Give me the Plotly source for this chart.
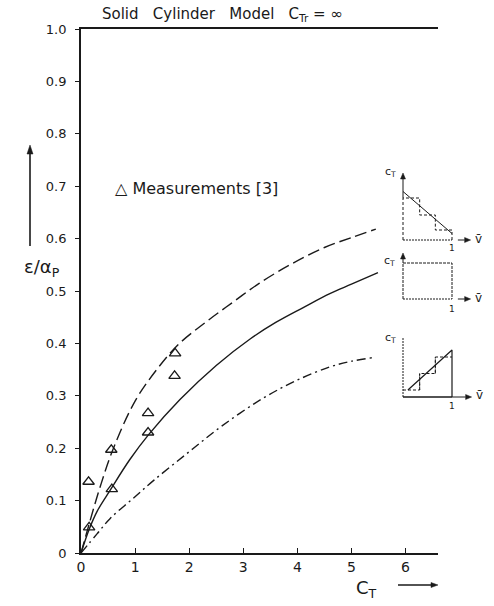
import math
import plotly.graph_objects as go

# ---------------- data ----------------
ct_upper = [0, 0.15, 0.35, 0.6, 1.0, 1.4, 1.8, 2.3, 2.8, 3.3, 3.9, 4.5, 5.0, 5.45]
eps_upper = [0, 0.055, 0.125, 0.2, 0.29, 0.35, 0.398, 0.44, 0.478, 0.515, 0.552, 0.583, 0.602, 0.618]

ct_mid = [0, 0.15, 0.3, 0.54, 0.9, 1.25, 1.83, 2.5, 3.12, 3.6, 4.1, 4.6, 5.0, 5.49]
eps_mid = [0, 0.045, 0.08, 0.12, 0.178, 0.226, 0.293, 0.358, 0.408, 0.44, 0.468, 0.495, 0.513, 0.535]

ct_low = [0, 0.3, 0.54, 0.95, 1.35, 1.96, 2.6, 3.36, 4.0, 4.6, 5.0, 5.41]
eps_low = [0, 0.037, 0.066, 0.103, 0.139, 0.19, 0.242, 0.295, 0.33, 0.355, 0.366, 0.373]

meas_ct = [0.15, 0.14, 0.57, 0.56, 1.24, 1.24, 1.73, 1.74]
meas_eps = [0.049, 0.136, 0.122, 0.197, 0.23, 0.267, 0.338, 0.381]

y_tickvals = [0, 0.1, 0.2, 0.3, 0.4, 0.5, 0.6, 0.7, 0.8, 0.9, 1.0]
y_ticktext = ["0", "0.1", "0.2", "0.3", "0.4", "0.5", "0.6", "0.7", "0.8", "0.9", "1.0"]
x_tickvals = [0, 1, 2, 3, 4, 5, 6]

# schematic insets (local coordinates: u along v-bar, v along c_T)
in1_line_u = [0, 1]
in1_line_v = [0.97, 0.13]
in1_step_u = [0, 0, 0.34, 0.34, 0.66, 0.66, 1, 1]
in1_step_v = [0, 0.84, 0.84, 0.5, 0.5, 0.2, 0.2, 0]

in2_rect_u = [0, 0, 1, 1]
in2_rect_v = [0, 0.72, 0.72, 0]

in3_line_u = [0.1, 1, 1]
in3_line_v = [0.14, 0.94, 0]
in3_step_u = [0, 0.34, 0.34, 0.66, 0.66, 1]
in3_step_v = [0.14, 0.14, 0.47, 0.47, 0.8, 0.8]

# ---------------- layout geometry ----------------
W, H = 494, 606
L, R, T, B = 81, 4, 29, 53
PW, PH = W - L - R, H - T - B
X_END = 438  # px where main x axis ends

def px2x(px):
    return (px - L) / PW

def py2y(py):
    return (H - B - py) / PH

FONT = "DejaVu Sans"
INK = "#1a1a1a"

fig = go.Figure()

fig.add_trace(go.Scatter(x=ct_upper, y=eps_upper, mode="lines", line_shape="spline",
                         line=dict(color=INK, width=1.4, dash="12px,5px"), showlegend=False))
fig.add_trace(go.Scatter(x=ct_mid, y=eps_mid, mode="lines", line_shape="spline",
                         line=dict(color=INK, width=1.4), showlegend=False))
fig.add_trace(go.Scatter(x=ct_low, y=eps_low, mode="lines", line_shape="spline",
                         line=dict(color=INK, width=1.4, dash="9px,4px,2px,4px"), showlegend=False))
fig.add_trace(go.Scatter(x=meas_ct, y=meas_eps, mode="markers",
                         marker=dict(symbol="triangle-up-open", size=10, color=INK,
                                     line=dict(width=1.3, color=INK)),
                         showlegend=False))

shapes = []
annotations = []

def arrow(xref, yref, x0, y0, x1, y1, ppx, ppy, head=7.0, half=3.0, width=1.2):
    dxp, dyp = (x1 - x0) * ppx, (y1 - y0) * ppy
    ln = math.hypot(dxp, dyp)
    ux, uy = dxp / ln, dyp / ln
    bx, by = x1 - ux * head / ppx, y1 - uy * head / ppy
    p1 = (bx - uy * half / ppx, by + ux * half / ppy)
    p2 = (bx + uy * half / ppx, by - ux * half / ppy)
    shapes.append(dict(type="line", xref=xref, yref=yref, x0=x0, y0=y0, x1=bx, y1=by,
                       line=dict(color=INK, width=width)))
    shapes.append(dict(type="path", xref=xref, yref=yref,
                       path="M %f,%f L %f,%f L %f,%f Z" % (x1, y1, p1[0], p1[1], p2[0], p2[1]),
                       fillcolor=INK, line=dict(color=INK, width=0.5)))

# ---------------- insets ----------------
inset_baselines = [240, 299, 397]
U_PX = 49.0
V_PX = 50.0
U0_PX = 403
ix0, ix1 = 380, 490

for k, oy in enumerate(inset_baselines, start=2):
    y_top_px, y_bot_px = oy - 78, oy + 12
    fig.layout["xaxis%d" % k] = dict(domain=[px2x(ix0), px2x(ix1)], anchor="y%d" % k, visible=False,
                                     range=[(ix0 - U0_PX) / U_PX, (ix1 - U0_PX) / U_PX], fixedrange=True)
    fig.layout["yaxis%d" % k] = dict(domain=[py2y(y_bot_px), py2y(y_top_px)], anchor="x%d" % k,
                                     visible=False, range=[-12 / V_PX, 78 / V_PX], fixedrange=True)

def iline(k, u, v, dash=None, width=1.0):
    fig.add_trace(go.Scatter(x=u, y=v, xaxis="x%d" % k, yaxis="y%d" % k, mode="lines",
                             line=dict(color=INK, width=width, dash=dash), showlegend=False,
                             hoverinfo="skip"))

def iarrow(k, u0, v0, u1, v1, width=1.0):
    arrow("x%d" % k, "y%d" % k, u0, v0, u1, v1, U_PX, V_PX, head=6, half=2.5, width=width)

def itext(k, u, v, text, size=11):
    annotations.append(dict(x=u, y=v, xref="x%d" % k, yref="y%d" % k, text=text,
                            xanchor="center", yanchor="middle",
                            showarrow=False, font=dict(family=FONT, size=size, color=INK)))

# inset 1: decreasing profile
iline(2, [0, 1], [0, 0], dash="2px,1px")
iline(2, in1_line_u, in1_line_v)
iline(2, in1_step_u, in1_step_v, dash="3px,2px")
iarrow(2, 0, 0.84, 0, 1.34)
iarrow(2, 1.12, 0, 1.38, 0)
itext(2, 1.55, 0.02, "v\u0304", 12)
itext(2, 1.0, -0.17, "1", 9)
itext(2, -0.25, 1.36, "c<sub>T</sub>", 11)

# inset 2: uniform profile
iline(3, [0, 1], [0, 0], dash="2px,1px")
iline(3, in2_rect_u, in2_rect_v, dash="3px,1px")
iarrow(3, 0, 0.72, 0, 0.92)
iarrow(3, 1.12, 0, 1.38, 0)
itext(3, 1.55, 0.02, "v\u0304", 12)
itext(3, 1.0, -0.2, "1", 9)
itext(3, -0.28, 0.76, "c<sub>T</sub>", 11)

# inset 3: increasing profile
iline(4, [0, 1], [0, 0], width=1.3)
iline(4, [0, 0], [0, 1.2], dash="2px,1px")
iline(4, in3_line_u, in3_line_v, width=1.2)
iline(4, in3_step_u, in3_step_v, dash="3px,2px")
iline(4, [0.34, 0.34], [0.14, 0.47], dash="3px,2px")
iline(4, [0.66, 0.66], [0.47, 0.8], dash="3px,2px")
iarrow(4, 1.0, 0, 1.4, 0)
itext(4, 1.57, 0.04, "v\u0304", 12)
itext(4, 1.0, -0.18, "1", 9)
itext(4, -0.26, 1.18, "c<sub>T</sub>", 11)

# ---------------- main texts ----------------
def ptext(px, py, text, size, xanchor="center"):
    annotations.append(dict(x=px2x(px), y=py2y(py), xref="paper", yref="paper", showarrow=False,
                            xanchor=xanchor, yanchor="middle", text=text,
                            font=dict(family=FONT, size=size, color=INK)))

ptext(222, 15, "Solid   Cylinder   Model   C<sub>Tr</sub> = \u221e", 15)
ptext(113, 189, "\u25b3 Measurements [3]", 16, xanchor="left")
ptext(42, 268, "\u03b5/\u03b1<sub>P</sub>", 18)
ptext(366, 589, "C<sub>T</sub>", 18)

# axis arrows (paper coordinates)
arrow("paper", "paper", px2x(30), py2y(246), px2x(30), py2y(145), PW, PH, head=9, half=3, width=1.6)
arrow("paper", "paper", px2x(398), py2y(585), px2x(438), py2y(585), PW, PH, head=7, half=2.5, width=1.3)

fig.update_layout(
    width=W, height=H, autosize=False,
    margin=dict(l=L, r=R, t=T, b=B, pad=0),
    paper_bgcolor="white", plot_bgcolor="rgba(0,0,0,0)",
    showlegend=False,
    font=dict(family=FONT, size=13, color=INK),
    annotations=annotations,
    shapes=shapes,
    xaxis=dict(domain=[0, px2x(X_END)], range=[0, 6.6], tickvals=x_tickvals,
               ticks="inside", ticklen=5, tickwidth=1.2, tickcolor=INK,
               showline=True, linecolor=INK, linewidth=1.5, mirror=True,
               showgrid=False, zeroline=False, tickfont=dict(size=14), fixedrange=True),
    yaxis=dict(domain=[0, 1], range=[0, 1.0], tickvals=y_tickvals, ticktext=y_ticktext,
               ticks="outside", ticklen=4, tickwidth=1.2, tickcolor=INK,
               showline=True, linecolor=INK, linewidth=1.8,
               showgrid=False, zeroline=False, tickfont=dict(size=13), fixedrange=True,
               ticklabelstandoff=6),
)

fig.write_html("out.html", config={"displayModeBar": False},
               post_script="document.body.style.margin='0px';")
